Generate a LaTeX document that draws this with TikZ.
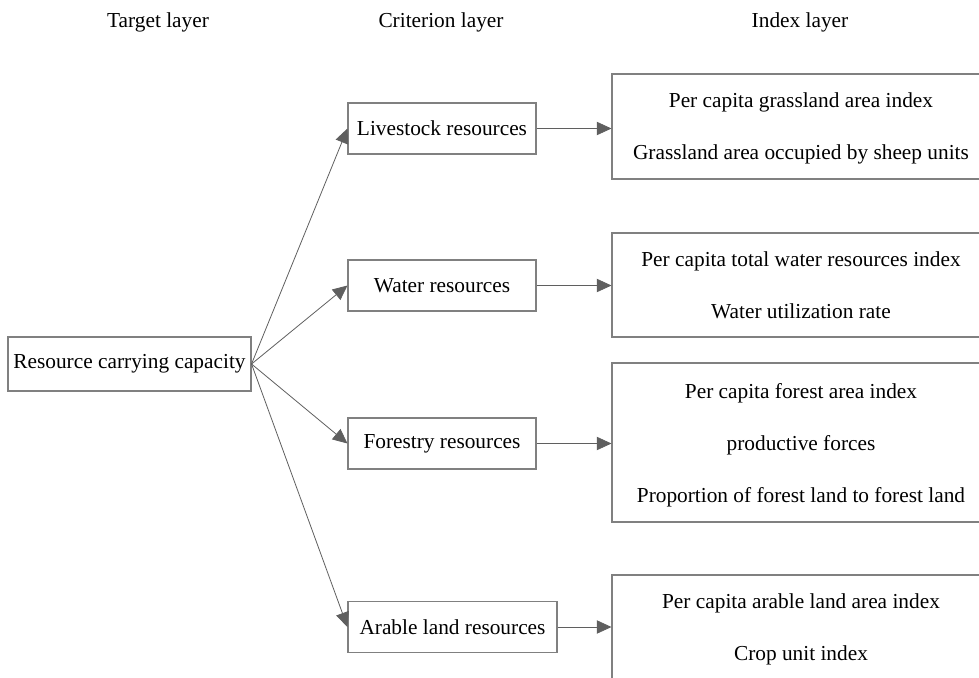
\documentclass[tikz,border=0pt]{standalone}
\usepackage{fontspec}
\setmainfont{Liberation Serif}
\usetikzlibrary{positioning}
\usetikzlibrary{arrows.meta}
\definecolor{gray2}{RGB}{128, 128, 128}
\definecolor{gray3}{RGB}{95, 95, 95}
\def\thickness{thick}
\tikzset{
box/.style={draw=gray2, \thickness, fill=white, inner sep=0pt, align=center,
	font=\fontsize{16}{39}\selectfont},
link/.style={draw=gray3, semithick,
	-{Triangle[length=11pt, width=10pt]}},
heading/.style={font=\fontsize{16}{19}\selectfont},
}

\begin{document}
\begin{tikzpicture}[x=0.75pt, y=-0.75pt]
\clip (0,0) rectangle (979,678);
%Place the headings
\node[heading] (tgt) at (158,22) {Target layer};
\node[heading] (crit) at (441,22) {Criterion layer};
\node[heading] (idx) at (800,22) {Index layer};

%Target layer
\node[box, minimum width=182.25pt, minimum height=40.5pt] (root) at (129.5,364) {Resource carrying capacity};

%Criterion layer
\tikzstyle{critbox}=[box, minimum width=141pt, minimum height=38.25pt]
\node[critbox] (live) at (442,128.5) {Livestock resources};
\node[critbox] (water) at (442,285.5) {Water resources};
\node[critbox] (forest) at (442,443.5) {Forestry resources};
\node[critbox, minimum width=156.75pt] (arable) at (452.5,627) {Arable land resources};

%Index layer
\tikzstyle{indexbox}=[box, minimum width=283.5pt, text depth=0pt]
\node[indexbox, minimum height=78.75pt] (livei) at (801,126.5) {Per capita grassland area index\\Grassland area occupied by sheep units};
\node[indexbox, minimum height=78pt] (wateri) at (801,285) {Per capita total water resources index\\Water utilization rate};
\node[indexbox, minimum height=119.25pt] (foresti) at (801,442.5) {Per capita forest area index\\productive forces\\Proportion of forest land to forest land};
\node[indexbox, minimum height=78.75pt] (arablei) at (801,627.5) {Per capita arable land area index\\Crop unit index};

%
\foreach \crit in {live, water, forest, arable} {
	\draw[link] (root.east) to (\crit.west);
	\draw[link] (\crit.east) to (\crit.east -| \crit i.west);
}

\end{tikzpicture}
\end{document}
